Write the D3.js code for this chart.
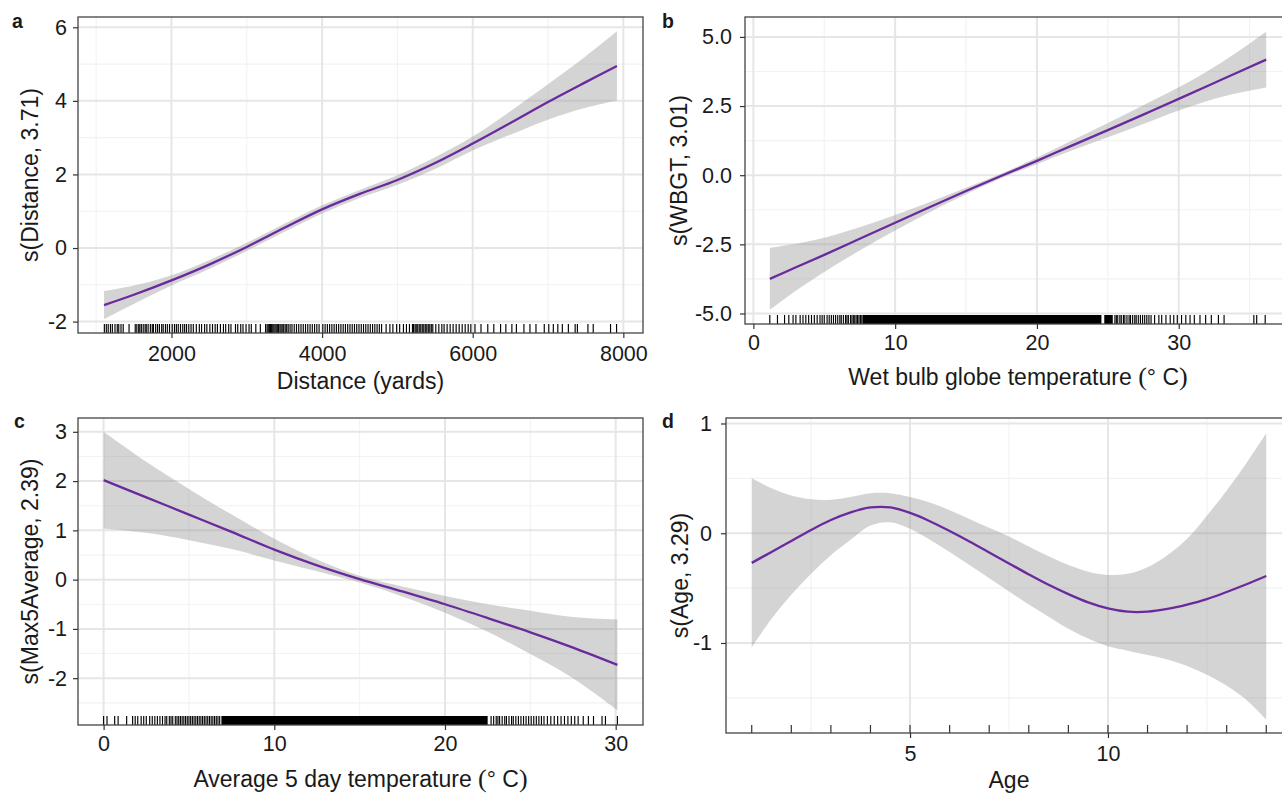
<!DOCTYPE html>
<html>
<head>
<meta charset="utf-8">
<script src="https://cdn.jsdelivr.net/npm/d3@7"></script>
<style>
  body { margin: 0; background: #fff; overflow: hidden; }
  text { font-family: "Liberation Sans", Arial, sans-serif; fill: #1a1a1a; }
</style>
</head>
<body>
<script>
// ---- panel a: distance ----
var distX   = [1105, 1500, 2000, 2500, 3000, 3500, 4000, 4500, 5000, 5500, 6000, 6500, 7000, 7500, 7915];
var distFit = [-1.55, -1.27, -0.88, -0.45, 0.03, 0.55, 1.05, 1.47, 1.85, 2.31, 2.84, 3.40, 3.97, 4.51, 4.95];
var distLo  = [-1.93, -1.52, -1.02, -0.57, -0.08, 0.44, 0.94, 1.36, 1.72, 2.15, 2.65, 3.08, 3.49, 3.81, 4.01];
var distHi  = [-1.17, -1.02, -0.74, -0.33, 0.14, 0.66, 1.16, 1.58, 1.98, 2.47, 3.03, 3.72, 4.45, 5.21, 5.89];
var distRug = [1109, 1135, 1160, 1190, 1215, 1250, 1280, 1300, 1330, 1359, 1437,
  1519, 1540, 1565, 1580, 1600, 1625, 1650, 1665, 1690, 1720, 1745, 1760, 1790, 1815, 1840, 1870, 1890, 1920, 1945, 1974,
  2010, 2040, 2065, 2090, 2120, 2150, 2175, 2200, 2230, 2260, 2290,
  2330, 2370, 2400, 2440, 2470, 2510, 2545, 2580, 2610, 2650, 2690, 2720, 2760, 2790,
  2850, 2880, 2920, 2950, 2990, 3030, 3060, 3120, 3180,
  3250, 3270, 3285, 3300, 3315, 3330, 3345, 3360, 3375, 3390, 3405, 3420, 3440, 3455, 3470, 3490, 3510, 3530, 3550, 3575,
  3600, 3630, 3660, 3690, 3720, 3750, 3780, 3810, 3840, 3870, 3900, 3930, 3960,
  4010, 4040, 4070, 4100, 4130, 4160, 4190, 4220, 4250, 4280, 4310, 4340, 4370, 4400, 4430, 4460, 4490, 4520, 4550,
  4580, 4610, 4640, 4670, 4700, 4730, 4760, 4790,
  4850, 4900, 4940, 4990, 5030, 5080, 5120, 5160, 5200,
  5215, 5235, 5250, 5270, 5290, 5310, 5330, 5350, 5370, 5390, 5410, 5430, 5450, 5470,
  5510, 5550, 5590, 5620, 5660, 5700, 5740, 5780, 5820, 5860, 5900, 5940, 5975,
  6030, 6110, 6200, 6280, 6370, 6440, 6520, 6580, 6680, 6760, 6840, 6950, 7010, 7070, 7130, 7190, 7270,
  7360, 7390, 7530, 7600, 7830, 7910];
var distRugDense = [];

// ---- panel b: WBGT ----
var wbgtX   = [1.16, 3, 5, 7.5, 10, 12.5, 15, 17.5, 20, 22.5, 25, 27.5, 30, 33, 36.17];
var wbgtFit = [-3.75, -3.33, -2.88, -2.30, -1.72, -1.14, -0.57, -0.02, 0.52, 1.08, 1.63, 2.19, 2.76, 3.45, 4.18];
var wbgtLo  = [-4.87, -4.18, -3.50, -2.72, -2.00, -1.32, -0.69, -0.10, 0.40, 0.90, 1.37, 1.85, 2.34, 2.83, 3.17];
var wbgtHi  = [-2.63, -2.48, -2.26, -1.88, -1.44, -0.96, -0.45, 0.06, 0.64, 1.26, 1.89, 2.53, 3.18, 4.07, 5.19];
var wbgtRug = [1.16, 1.7, 2.2, 2.5, 2.8, 3.0, 3.3, 3.5, 3.7, 3.9, 4.1, 4.3, 4.5, 4.7, 4.85, 5.0, 5.2, 5.35, 5.5,
  5.65, 5.8, 5.95, 6.1, 6.2, 6.35, 6.5, 6.6, 6.7, 6.85, 6.95, 7.05, 7.15, 7.25, 7.35, 7.45, 7.55, 7.65,
  25.5, 25.6, 25.7, 25.85, 25.95, 26.1, 26.2, 26.35, 26.5, 26.6, 26.75, 26.9, 27.0, 27.15, 27.3, 27.45, 27.6,
  27.75, 27.9, 28.05, 28.3, 28.6, 28.8, 29.1, 29.4, 29.65, 29.9, 30.2, 30.5, 30.8, 31.1, 31.5, 31.9, 32.3,
  32.8, 33.2, 35.3, 35.5, 36.1];
var wbgtRugDense = [[7.7, 24.55], [24.75, 25.35]];

// ---- panel c: 5 day average temperature ----
var tempX   = [0, 2.5, 5, 7.5, 10, 12.5, 15, 17.5, 20, 22.5, 25, 27.5, 30.1];
var tempFit = [2.02, 1.67, 1.32, 0.97, 0.61, 0.29, 0.01, -0.24, -0.50, -0.78, -1.07, -1.38, -1.73];
var tempLo  = [1.04, 0.95, 0.80, 0.62, 0.39, 0.17, -0.06, -0.34, -0.67, -1.06, -1.51, -2.00, -2.65];
var tempHi  = [3.00, 2.39, 1.84, 1.32, 0.83, 0.41, 0.08, -0.14, -0.33, -0.50, -0.63, -0.76, -0.81];
var tempRug = [0, 0.2, 0.65, 0.85, 1.35, 1.7, 1.85, 2.0, 2.2, 2.35, 2.5, 2.7, 2.85, 3.0, 3.15, 3.3, 3.45, 3.6,
  3.7, 3.85, 3.95, 4.05, 4.2, 4.3, 4.4, 4.5, 4.6, 4.7, 4.8, 4.9, 5.0, 5.1, 5.2, 5.3, 5.4, 5.5, 5.6, 5.7, 5.8,
  5.9, 6.0, 6.1, 6.2, 6.3, 6.4, 6.5, 6.6, 6.7, 6.8,
  22.7, 22.85, 23.0, 23.1, 23.2, 23.35, 23.5, 23.6, 23.75, 23.9, 24.0, 24.15, 24.3, 24.45, 24.6, 24.75, 24.9,
  25.05, 25.2, 25.35, 25.5, 25.65, 25.8, 26.0, 26.2, 26.4, 26.6, 26.8, 27.0, 27.2, 27.4, 27.6, 27.8, 28.1,
  28.4, 28.7, 29.2, 29.4, 30.1];
var tempRugDense = [[6.9, 22.5]];

// ---- panel d: age ----
var ageX   = [1, 1.5, 2, 2.5, 3, 3.5, 4, 4.5, 5, 5.5, 6, 6.5, 7, 7.5, 8, 8.5, 9, 9.5, 10, 10.5, 11, 11.5, 12, 12.5, 13, 13.5, 14];
var ageFit = [-0.27, -0.17, -0.07, 0.03, 0.12, 0.19, 0.235, 0.235, 0.185, 0.11, 0.02, -0.075, -0.175, -0.275, -0.375,
  -0.47, -0.555, -0.63, -0.685, -0.715, -0.715, -0.69, -0.65, -0.60, -0.535, -0.465, -0.39];
var ageHi  = [0.50, 0.41, 0.345, 0.31, 0.305, 0.33, 0.365, 0.365, 0.33, 0.28, 0.21, 0.13, 0.05, -0.03, -0.12,
  -0.21, -0.29, -0.35, -0.38, -0.37, -0.31, -0.20, -0.05, 0.16, 0.39, 0.64, 0.91];
var ageLo  = [-1.04, -0.78, -0.56, -0.37, -0.20, -0.06, 0.07, 0.10, 0.04, -0.06, -0.17, -0.29, -0.41, -0.53, -0.65,
  -0.76, -0.87, -0.96, -1.03, -1.07, -1.11, -1.15, -1.21, -1.29, -1.39, -1.52, -1.70];
var ageRug = [1, 2, 3, 4, 5, 6, 7, 8, 9, 10, 11, 12, 13, 14];

var lineColor = '#6a2a9c';

var svg = d3.select('body').append('svg')
    .attr('width', 1282)
    .attr('height', 794);

function drawPanel(p) {
  var x = d3.scaleLinear().domain(p.xDom).range([p.left, p.right]);
  var y = d3.scaleLinear().domain(p.yDom).range([p.bottom, p.top]);
  var g = svg.append('g');

  // minor grid
  g.selectAll('.xmin').data(p.xMinor).enter().append('line')
      .attr('x1', d => x(d)).attr('x2', d => x(d))
      .attr('y1', p.top).attr('y2', p.bottom)
      .attr('stroke', '#f2f2f2').attr('stroke-width', 1.1);
  g.selectAll('.ymin').data(p.yMinor).enter().append('line')
      .attr('x1', p.left).attr('x2', p.right)
      .attr('y1', d => y(d)).attr('y2', d => y(d))
      .attr('stroke', '#f2f2f2').attr('stroke-width', 1.1);
  // major grid
  g.selectAll('.xmaj').data(p.xTicks).enter().append('line')
      .attr('x1', d => x(d)).attr('x2', d => x(d))
      .attr('y1', p.top).attr('y2', p.bottom)
      .attr('stroke', '#e6e6e6').attr('stroke-width', 2);
  g.selectAll('.ymaj').data(p.yTicks).enter().append('line')
      .attr('x1', p.left).attr('x2', p.right)
      .attr('y1', d => y(d)).attr('y2', d => y(d))
      .attr('stroke', '#e6e6e6').attr('stroke-width', 2);

  var pts = p.xs.map((v, i) => ({x: v, fit: p.fit[i], lo: p.lo[i], hi: p.hi[i]}));
  var curve = d3.curveCatmullRom.alpha(0.5);

  g.append('path').datum(pts)
      .attr('d', d3.area().curve(curve).x(d => x(d.x)).y0(d => y(d.lo)).y1(d => y(d.hi)))
      .attr('fill', '#999999').attr('fill-opacity', 0.42);

  g.append('path').datum(pts)
      .attr('d', d3.line().curve(curve).x(d => x(d.x)).y(d => y(d.fit)))
      .attr('fill', 'none').attr('stroke', lineColor).attr('stroke-width', 2.3);

  // rug
  g.selectAll('.rugband').data(p.rugDense).enter().append('rect')
      .attr('x', d => x(d[0])).attr('width', d => x(d[1]) - x(d[0]))
      .attr('y', p.bottom - p.rugLen).attr('height', p.rugLen)
      .attr('fill', '#000');
  g.selectAll('.rug').data(p.rug).enter().append('line')
      .attr('x1', d => x(d)).attr('x2', d => x(d))
      .attr('y1', p.bottom - p.rugLen).attr('y2', p.bottom)
      .attr('stroke', p.rugColor || '#000').attr('stroke-width', p.rugWidth || 1.15);

  // border
  g.append('rect')
      .attr('x', p.left).attr('y', p.top)
      .attr('width', p.right - p.left).attr('height', p.bottom - p.top)
      .attr('fill', 'none').attr('stroke', '#444').attr('stroke-width', 1.3);

  // axes
  var xa = g.append('g').attr('transform', 'translate(0,' + p.bottom + ')')
      .call(d3.axisBottom(x).tickValues(p.xTicks).tickSize(5).tickPadding(p.xPad)
        .tickFormat(p.xFmt));
  var ya = g.append('g').attr('transform', 'translate(' + p.left + ',0)')
      .call(d3.axisLeft(y).tickValues(p.yTicks).tickSize(5).tickPadding(p.yPad)
        .tickFormat(p.yFmt));
  [xa, ya].forEach(function(a) {
    a.select('.domain').remove();
    a.selectAll('line').attr('stroke', '#333').attr('stroke-width', 1.2);
    a.selectAll('text').attr('font-size', 21.5).attr('fill', '#1a1a1a')
      .style('font-family', '"Liberation Sans", Arial, sans-serif');
  });

  // titles
  var xt = g.append('text')
      .attr('x', (p.left + p.right) / 2).attr('y', p.xTitleY)
      .attr('text-anchor', 'middle').attr('font-size', 23);
  p.xTitle(xt);

  g.append('text')
      .attr('transform', 'translate(' + p.yTitleX + ',' + ((p.top + p.bottom) / 2) + ') rotate(-90)')
      .attr('text-anchor', 'middle').attr('font-size', 23)
      .text(p.yTitle);

  g.append('text')
      .attr('x', p.tagX).attr('y', p.tagY)
      .attr('font-size', 19.5).attr('font-weight', 'bold')
      .text(p.tag);
}

function degTitle(label) {
  return function(t) {
    t.append('tspan').text(label + ' ');
    t.append('tspan').text('(').style('font-family', '"Liberation Serif", serif').attr('font-size', 26);
    t.append('tspan').text('\u00b0 C');
    t.append('tspan').text(')').style('font-family', '"Liberation Serif", serif').attr('font-size', 26);
  };
}

drawPanel({
  tag: 'a', tagX: 12, tagY: 28,
  left: 78, right: 643, top: 17, bottom: 333,
  xDom: [759, 8261], yDom: [-2.31, 6.28],
  xTicks: [2000, 4000, 6000, 8000], xMinor: [1000, 3000, 5000, 7000],
  yTicks: [-2, 0, 2, 4, 6], yMinor: [-1, 1, 3, 5],
  xFmt: d => String(d), yFmt: d => String(d),
  xPad: 8, yPad: 6,
  xs: distX, fit: distFit, lo: distLo, hi: distHi,
  rug: distRug, rugDense: distRugDense, rugLen: 9,
  xTitle: t => t.text('Distance (yards)'), xTitleY: 389,
  yTitle: 's(Distance, 3.71)', yTitleX: 38
});

drawPanel({
  tag: 'b', tagX: 662, tagY: 28,
  left: 745, right: 1291, top: 17, bottom: 324,
  xDom: [-0.59, 37.92], yDom: [-5.38, 5.72],
  xTicks: [0, 10, 20, 30], xMinor: [5, 15, 25, 35],
  yTicks: [-5, -2.5, 0, 2.5, 5], yMinor: [-3.75, -1.25, 1.25, 3.75],
  xFmt: d => String(d), yFmt: d => d.toFixed(1),
  xPad: 6, yPad: 8,
  xs: wbgtX, fit: wbgtFit, lo: wbgtLo, hi: wbgtHi,
  rug: wbgtRug, rugDense: wbgtRugDense, rugLen: 9,
  xTitle: degTitle('Wet bulb globe temperature'), xTitleY: 385,
  yTitle: 's(WBGT, 3.01)', yTitleX: 687
});

drawPanel({
  tag: 'c', tagX: 14, tagY: 428,
  left: 78, right: 643, top: 418, bottom: 725,
  xDom: [-1.5, 31.6], yDom: [-2.95, 3.28],
  xTicks: [0, 10, 20, 30], xMinor: [5, 15, 25],
  yTicks: [-2, -1, 0, 1, 2, 3], yMinor: [-2.5, -1.5, -0.5, 0.5, 1.5, 2.5],
  xFmt: d => String(d), yFmt: d => String(d),
  xPad: 6, yPad: 6,
  xs: tempX, fit: tempFit, lo: tempLo, hi: tempHi,
  rug: tempRug, rugDense: tempRugDense, rugLen: 9,
  xTitle: degTitle('Average 5 day temperature'), xTitleY: 787,
  yTitle: 's(Max5Average, 2.39)', yTitleX: 38
});

drawPanel({
  tag: 'd', tagX: 662, tagY: 428,
  left: 726, right: 1292, top: 418, bottom: 733,
  xDom: [0.35, 14.65], yDom: [-1.82, 1.05],
  xTicks: [5, 10], xMinor: [2.5, 7.5, 12.5],
  yTicks: [-1, 0, 1], yMinor: [-1.5, -0.5, 0.5],
  xFmt: d => String(d), yFmt: d => String(d),
  xPad: 8, yPad: 9,
  xs: ageX, fit: ageFit, lo: ageLo, hi: ageHi,
  rug: ageRug, rugDense: [], rugLen: 8, rugColor: '#333', rugWidth: 1.2,
  xTitle: t => t.text('Age'), xTitleY: 788,
  yTitle: 's(Age, 3.29)', yTitleX: 688
});
</script>
</body>
</html>
